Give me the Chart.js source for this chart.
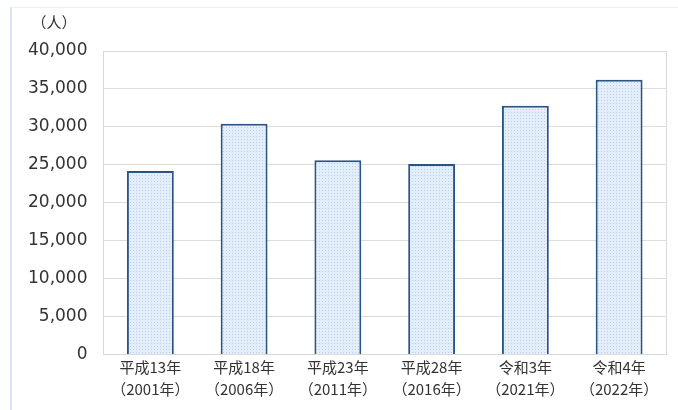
<!DOCTYPE html>
<html>
<head>
<meta charset="utf-8">
<script src="https://cdn.jsdelivr.net/npm/chart.js@4/dist/chart.umd.min.js"></script>
<style>
  html, body { margin: 0; padding: 0; background: #fff; text-spacing-trim: space-all; }
  canvas { text-spacing-trim: space-all; }
  #wrap { position: absolute; left: 10px; top: 7px; width: 668px; height: 403px;
          border-left: 2px solid #d6e4f3; border-top: 1px solid #eeeeee; box-sizing: border-box; }
  #box { position: absolute; left: 0; top: 0; width: 678px; height: 410px; }
</style>
</head>
<body>
<div id="wrap"></div>
<div id="box"><canvas id="graphCanvas"></canvas></div>
<script>
var labels = [
  ['平成13年', '（2001年）'],
  ['平成18年', '（2006年）'],
  ['平成23年', '（2011年）'],
  ['平成28年', '（2016年）'],
  ['令和3年', '（2021年）'],
  ['令和4年', '（2022年）']
];
var people = [24200, 30400, 25600, 25100, 32800, 36200];
var yTicks = [0, 5000, 10000, 15000, 20000, 25000, 30000, 35000, 40000];
var unitLabel = '（人）';

var NUM_FONT = '"DejaVu Sans", "Noto Sans CJK JP", sans-serif';
var JP_FONT = '"Noto Sans CJK SC", "Noto Sans CJK JP", sans-serif';

// dotted light blue fill like the original
function makePattern() {
  var c = document.createElement('canvas');
  c.width = 3; c.height = 3;
  var g = c.getContext('2d');
  g.fillStyle = '#e4eefa';
  g.fillRect(0, 0, 3, 3);
  g.fillStyle = '#bcd0e8';
  g.fillRect(1, 1, 1, 1);
  return g.createPattern(c, 'repeat');
}

var unitPlugin = {
  id: 'unit',
  afterDraw: function(chart) {
    var ctx = chart.ctx;
    ctx.save();
    ctx.font = '15px ' + JP_FONT;
    ctx.fillStyle = '#333';
    ctx.textAlign = 'center';
    ctx.textBaseline = 'middle';
    ctx.fillText(unitLabel, 54, 22);
    ctx.restore();
  }
};

var mychart = new Chart(document.getElementById('graphCanvas'), {
  type: 'bar',
  data: {
    labels: labels,
    datasets: [{
      label: '人数',
      data: people,
      backgroundColor: makePattern(),
      borderColor: '#2a5583',
      borderWidth: 2,
      barPercentage: 0.5,
      categoryPercentage: 1.0
    }]
  },
  options: {
    responsive: true,
    maintainAspectRatio: false,
    animation: false,
    layout: { padding: { left: 12, right: 12, top: 51, bottom: 8 } },
    plugins: {
      legend: { display: false },
      tooltip: { enabled: false }
    },
    scales: {
      x: {
        grid: { display: false, drawTicks: false },
        border: { color: '#d9d9d9' },
        ticks: { color: '#333', font: { family: JP_FONT, size: 15, lineHeight: 1.45 }, maxRotation: 0, padding: 2 }
      },
      y: {
        min: 0,
        max: 40000,
        afterBuildTicks: function(axis) {
          axis.ticks = yTicks.map(function(v) { return { value: v }; });
        },
        grid: { color: '#dcdcdc', drawTicks: false },
        border: { color: '#d9d9d9' },
        ticks: {
          color: '#333',
          padding: 16,
          font: { family: NUM_FONT, size: 17 },
          callback: function(v) { return v.toLocaleString('en-US'); }
        }
      }
    }
  },
  plugins: [unitPlugin, {
    id: 'rightEdge',
    afterDraw: function(chart) {
      var a = chart.chartArea, ctx = chart.ctx;
      ctx.save();
      ctx.strokeStyle = '#d9d9d9';
      ctx.lineWidth = 1;
      ctx.beginPath();
      ctx.moveTo(a.right + 0.5, a.top);
      ctx.lineTo(a.right + 0.5, a.bottom);
      ctx.stroke();
      ctx.restore();
    }
  }]
});
</script>
</body>
</html>
